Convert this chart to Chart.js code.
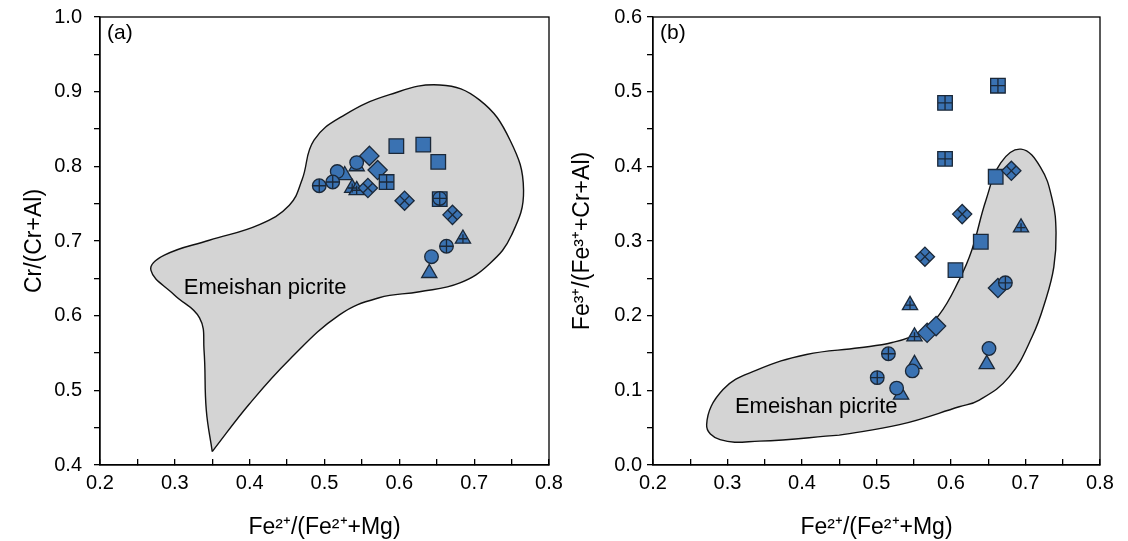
<!DOCTYPE html>
<html>
<head>
<meta charset="utf-8">
<script src="https://cdn.jsdelivr.net/npm/chart.js@4.4.0/dist/chart.umd.min.js"></script>
<style>
  html, body { margin: 0; padding: 0; background: #fff; }
  #wrap { position: relative; width: 1128px; height: 541px; }
  canvas { position: absolute; top: 0; }
  #chartA { left: 0; }
  #chartB { left: 564px; }
</style>
</head>
<body>
<div id="wrap">
  <canvas id="chartA" width="564" height="541"></canvas>
  <canvas id="chartB" width="564" height="541"></canvas>
</div>
<script>
// tick labels
const xTickLabels = ['0.2', '0.3', '0.4', '0.5', '0.6', '0.7', '0.8'];
const yTickLabelsA = ['0.4', '0.5', '0.6', '0.7', '0.8', '0.9', '1.0'];
const yTickLabelsB = ['0.0', '0.1', '0.2', '0.3', '0.4', '0.5', '0.6'];

// (a) Cr/(Cr+Al) vs Fe2+/(Fe2++Mg)
const aSquare    = [{x: 0.596, y: 0.827}, {x: 0.632, y: 0.829}, {x: 0.652, y: 0.806}];
const aSquareX   = [{x: 0.583, y: 0.779}, {x: 0.654, y: 0.756}];
const aDiamond   = [{x: 0.560, y: 0.814}, {x: 0.571, y: 0.795}];
const aDiamondX  = [{x: 0.558, y: 0.771}, {x: 0.607, y: 0.754}, {x: 0.671, y: 0.735}];
const aCircle    = [{x: 0.517, y: 0.793}, {x: 0.543, y: 0.805}, {x: 0.643, y: 0.679}];
const aCircleX   = [{x: 0.493, y: 0.774}, {x: 0.511, y: 0.779}, {x: 0.663, y: 0.693}, {x: 0.654, y: 0.757}];
const aTriangle  = [{x: 0.527, y: 0.788}, {x: 0.543, y: 0.800}, {x: 0.640, y: 0.657}];
const aTriangleX = [{x: 0.537, y: 0.771}, {x: 0.543, y: 0.768}, {x: 0.685, y: 0.703}];

// (b) Fe3+/(Fe3++Cr+Al) vs Fe2+/(Fe2++Mg)
const bSquare    = [{x: 0.660, y: 0.386}, {x: 0.640, y: 0.299}, {x: 0.606, y: 0.261}];
const bSquareX   = [{x: 0.663, y: 0.508}, {x: 0.592, y: 0.485}, {x: 0.592, y: 0.410}];
const bDiamond   = [{x: 0.663, y: 0.237}, {x: 0.568, y: 0.177}, {x: 0.580, y: 0.186}];
const bDiamondX  = [{x: 0.681, y: 0.394}, {x: 0.615, y: 0.336}, {x: 0.565, y: 0.279}];
const bCircle    = [{x: 0.548, y: 0.126}, {x: 0.527, y: 0.103}, {x: 0.651, y: 0.156}];
const bCircleX   = [{x: 0.673, y: 0.244}, {x: 0.516, y: 0.149}, {x: 0.501, y: 0.117}];
const bTriangle  = [{x: 0.551, y: 0.135}, {x: 0.533, y: 0.094}, {x: 0.648, y: 0.135}];
const bTriangleX = [{x: 0.545, y: 0.214}, {x: 0.694, y: 0.318}, {x: 0.551, y: 0.172}];

// Emeishan picrite fields (outline, walked round once)
const aField = [
  {x: 0.350, y: 0.418}, {x: 0.342, y: 0.474}, {x: 0.339, y: 0.554}, {x: 0.333, y: 0.597},
  {x: 0.299, y: 0.628}, {x: 0.268, y: 0.661}, {x: 0.286, y: 0.681}, {x: 0.346, y: 0.701},
  {x: 0.413, y: 0.722}, {x: 0.453, y: 0.748}, {x: 0.470, y: 0.782}, {x: 0.486, y: 0.835},
  {x: 0.527, y: 0.869}, {x: 0.587, y: 0.896}, {x: 0.654, y: 0.909}, {x: 0.707, y: 0.889},
  {x: 0.748, y: 0.835}, {x: 0.766, y: 0.768}, {x: 0.750, y: 0.708}, {x: 0.721, y: 0.670},
  {x: 0.681, y: 0.644}, {x: 0.627, y: 0.632}, {x: 0.573, y: 0.624}, {x: 0.520, y: 0.601},
  {x: 0.453, y: 0.541}, {x: 0.399, y: 0.481}
];
const bField = [
  {x: 0.450, y: 0.040}, {x: 0.343, y: 0.032}, {x: 0.290, y: 0.034}, {x: 0.272, y: 0.054},
  {x: 0.294, y: 0.101}, {x: 0.339, y: 0.127}, {x: 0.406, y: 0.148}, {x: 0.477, y: 0.157},
  {x: 0.521, y: 0.164}, {x: 0.557, y: 0.177}, {x: 0.584, y: 0.201}, {x: 0.611, y: 0.248},
  {x: 0.628, y: 0.288}, {x: 0.647, y: 0.355}, {x: 0.667, y: 0.405}, {x: 0.694, y: 0.423},
  {x: 0.720, y: 0.399}, {x: 0.736, y: 0.355}, {x: 0.741, y: 0.311}, {x: 0.738, y: 0.265},
  {x: 0.727, y: 0.221}, {x: 0.709, y: 0.172}, {x: 0.678, y: 0.118}, {x: 0.638, y: 0.087},
  {x: 0.611, y: 0.078}, {x: 0.531, y: 0.054}
];

const FONT = "'Liberation Sans', Arial, sans-serif";
const FILL = '#3a72b2';
const EDGE = '#1b2838';

const SHAPES = {
  square:   {style: 'rect',     r: 10.3, cross: 'cross',    cr: 7.2},
  diamond:  {style: 'rectRot',  r: 9.6,  cross: 'crossRot', cr: 6.8},
  circle:   {style: 'circle',   r: 6.8,  cross: 'cross',    cr: 6.8},
  triangle: {style: 'triangle', r: 8.8,  cross: 'cross',    cr: 4.4}
};

function buildDatasets(field, groups) {
  const seq = [];
  seq.push({
    data: [...field, field[0]],
    showLine: true, tension: 0.42, isField: true,
    borderColor: '#111', borderWidth: 1.4, backgroundColor: '#d4d4d4',
    pointRadius: 0, fill: false
  });
  groups.forEach(g => {
    const s = SHAPES[g.shape];
    seq.push({
      data: g.data, pointStyle: s.style, pointRadius: s.r,
      backgroundColor: FILL, borderColor: EDGE, borderWidth: 1.3
    });
    if (g.crossed) {
      seq.push({
        data: g.data, pointStyle: s.cross, pointRadius: s.cr,
        backgroundColor: EDGE, borderColor: EDGE, borderWidth: 1.3
      });
    }
  });
  // higher order is painted first
  seq.forEach((d, i) => { d.order = seq.length - i; });
  return seq;
}

// fill the picrite field under its outline
const fieldFill = {
  id: 'fieldFill',
  beforeDatasetsDraw(chart) {
    const {ctx, chartArea} = chart;
    chart.data.datasets.forEach((ds, i) => {
      if (!ds.isField) return;
      const line = chart.getDatasetMeta(i).dataset;
      ctx.save();
      ctx.beginPath();
      ctx.rect(chartArea.left, chartArea.top, chartArea.width, chartArea.height);
      ctx.clip();
      ctx.beginPath();
      line.path(ctx);
      ctx.closePath();
      ctx.fillStyle = ds.backgroundColor;
      ctx.fill();
      ctx.restore();
    });
  }
};

// frame, panel letter and field name
const decor = {
  id: 'decor',
  afterDraw(chart, args, opts) {
    const {ctx, chartArea, scales} = chart;
    ctx.save();
    ctx.strokeStyle = '#000';
    ctx.lineWidth = 1.3;
    ctx.strokeRect(chartArea.left, chartArea.top, chartArea.width, chartArea.height);
    ctx.fillStyle = '#000';
    ctx.textBaseline = 'middle';
    ctx.textAlign = 'left';
    ctx.font = '21px ' + FONT;
    ctx.fillText(opts.panel, chartArea.left + 7, chartArea.top + 16);
    ctx.font = '22px ' + FONT;
    ctx.fillText(opts.name, scales.x.getPixelForValue(opts.nameX), scales.y.getPixelForValue(opts.nameY));
    ctx.restore();
  }
};

function tickCb(labels) {
  return v => labels.find(l => Math.abs(parseFloat(l) - v) < 1e-6) || '';
}

// keep tick labels from shrinking the plot area
function noPad(s) {
  s.paddingLeft = 0; s.paddingRight = 0; s.paddingTop = 0; s.paddingBottom = 0;
}

function makeChart(id, cfg) {
  return new Chart(document.getElementById(id), {
    type: 'scatter',
    data: {datasets: buildDatasets(cfg.field, cfg.groups)},
    plugins: [fieldFill, decor],
    options: {
      responsive: false,
      animation: false,
      events: [],
      layout: {padding: {top: 17, right: cfg.padRight, left: 0, bottom: 0}},
      plugins: {
        legend: {display: false},
        tooltip: {enabled: false},
        decor: {panel: cfg.panel, name: 'Emeishan picrite', nameX: cfg.nameX, nameY: cfg.nameY}
      },
      scales: {
        x: {
          min: 0.2, max: 0.8,
          afterFit: s => { s.height = 76; noPad(s); },
          border: {display: true, color: '#000', width: 1.3},
          grid: {drawOnChartArea: false, drawTicks: true, tickLength: -6, color: '#000', lineWidth: 1.3},
          ticks: {stepSize: 0.05, autoSkip: false, maxRotation: 0, padding: 12, color: '#000',
                  font: {family: FONT, size: 20}, callback: tickCb(xTickLabels)},
          title: {display: true, text: 'Fe²⁺/(Fe²⁺+Mg)', color: '#000',
                  font: {family: FONT, size: 23}, padding: {top: 0, bottom: 0}}
        },
        y: {
          min: cfg.yMin, max: cfg.yMax,
          afterFit: s => { s.width = cfg.yWidth; noPad(s); },
          border: {display: true, color: '#000', width: 1.3},
          grid: {drawOnChartArea: false, drawTicks: true, tickLength: 6, color: '#000', lineWidth: 1.3},
          ticks: {stepSize: 0.05, autoSkip: false, padding: cfg.yPad, color: '#000',
                  font: {family: FONT, size: 20}, callback: tickCb(cfg.yLabels)},
          title: {display: true, text: cfg.yTitle, color: '#000',
                  font: {family: FONT, size: 23}, padding: {top: cfg.yTitlePad, bottom: 0}}
        }
      }
    }
  });
}

makeChart('chartA', {
  panel: '(a)', field: aField, nameX: 0.312, nameY: 0.637,
  yMin: 0.4, yMax: 1.0, yLabels: yTickLabelsA, yTitle: 'Cr/(Cr+Al)',
  yWidth: 100, yPad: 12, yTitlePad: 21, padRight: 15,
  groups: [
    {data: aSquare, shape: 'square'},
    {data: aTriangle, shape: 'triangle'},
    {data: aCircle, shape: 'circle'},
    {data: aDiamond, shape: 'diamond'},
    {data: aTriangleX, shape: 'triangle', crossed: true},
    {data: aDiamondX, shape: 'diamond', crossed: true},
    {data: aSquareX, shape: 'square', crossed: true},
    {data: aCircleX, shape: 'circle', crossed: true}
  ]
});

makeChart('chartB', {
  panel: '(b)', field: bField, nameX: 0.310, nameY: 0.078,
  yMin: 0.0, yMax: 0.6, yLabels: yTickLabelsB, yTitle: 'Fe³⁺/(Fe³⁺+Cr+Al)',
  yWidth: 89, yPad: 5, yTitlePad: 5, padRight: 28,
  groups: [
    {data: bSquare, shape: 'square'},
    {data: bTriangle, shape: 'triangle'},
    {data: bCircle, shape: 'circle'},
    {data: bDiamond, shape: 'diamond'},
    {data: bTriangleX, shape: 'triangle', crossed: true},
    {data: bDiamondX, shape: 'diamond', crossed: true},
    {data: bSquareX, shape: 'square', crossed: true},
    {data: bCircleX, shape: 'circle', crossed: true}
  ]
});
</script>
</body>
</html>
